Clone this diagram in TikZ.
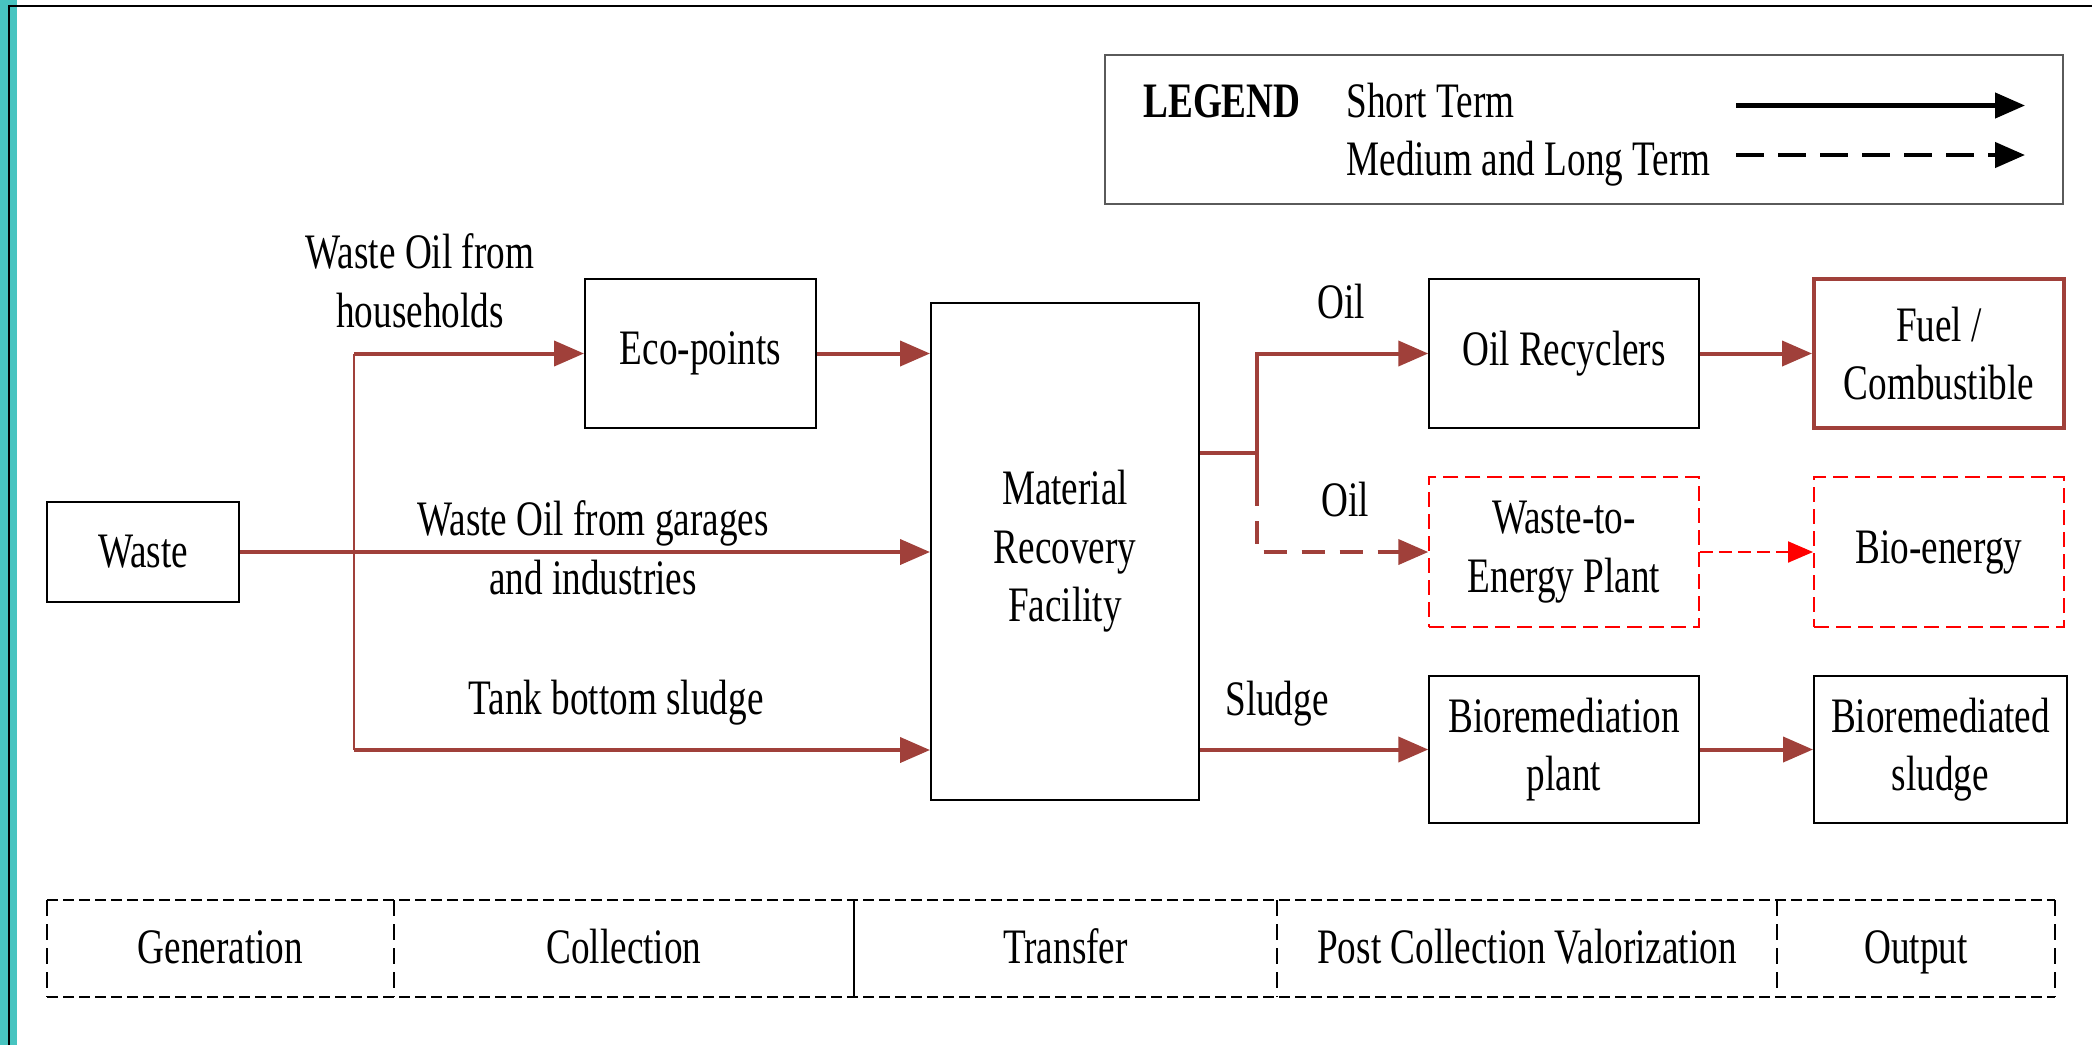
\documentclass[tikz,border=0pt]{standalone}
\usepackage{fontspec}
\setmainfont{Liberation Serif}[FakeStretch=0.75]
\usetikzlibrary{arrows.meta}
\definecolor{brn}{RGB}{160,64,58}
\definecolor{tealstrip}{RGB}{72,196,192}
\definecolor{legendgray}{RGB}{90,90,90}
\newcommand{\dgfont}{\fontsize{24.8pt}{29.3pt}\selectfont}
\begin{document}
\begin{tikzpicture}[x=0.5pt,y=-0.5pt, font=\dgfont,
  box/.style={draw=black, line width=1pt, align=center, inner sep=0pt},
  redbox/.style={draw=red, line width=1pt, dash pattern=on 7.5pt off 3.5pt, align=center, inner sep=0pt},
  lbl/.style={anchor=base, align=center, inner sep=0pt},
  flow/.style={draw=brn, line width=2pt, -{Triangle[length=15pt,width=12.5pt]}},
  brline/.style={draw=brn, line width=2pt},
  trunk/.style={draw=brn, line width=1pt},
  brdash/.style={dash pattern=on 11.5pt off 7.5pt},
  redflow/.style={draw=red, line width=1pt, dash pattern=on 6.5pt off 3pt, -{Triangle[length=12.5pt,width=10.5pt]}},
  legarrow/.style={draw=black, line width=2.2pt, -{Triangle[length=15pt,width=12.5pt]}},
  cell/.style={inner sep=0pt, outer sep=0pt, minimum height=48.5pt, text height=14.5pt, text depth=0pt},
  hdash/.style={draw=black, line width=1pt, dash pattern=on 5.5pt off 2.5pt},
  vdash/.style={draw=black, line width=0.7pt, dash pattern=on 8pt off 4pt}
]
\useasboundingbox (0,0) rectangle (2092,1045);
\fill[white] (0,0) rectangle (2092,1045);
\fill[tealstrip] (0,0) rectangle (17,1045);
\draw[line width=1.1pt] (9,1045) -- (9,6) -- (2092,6);

% Legend
\node[draw=legendgray, line width=0.6pt, minimum width=479pt, minimum height=74.5pt, inner sep=0pt] (legend) at (1584,129.5) {};
\node[anchor=base west, inner sep=0pt, font=\dgfont\bfseries] (lg) at (1143,117) {LEGEND};
\node[anchor=base west, inner sep=0pt] (st) at (1346,117) {Short Term};
\node[anchor=base west, inner sep=0pt] (ml) at (1346,175) {Medium and Long Term};
\coordinate (sa1) at (1736,105.5);
\coordinate (sa2) at (2025,105.5);
\coordinate (da1) at (1736,155);
\coordinate (da2) at (2025,155);
\draw[legarrow] (sa1) -- (sa2);
\draw[legarrow, dash pattern=on 14pt off 7pt] (da1) -- (da2);

% Boxes
\node[box, minimum width=96pt, minimum height=50pt] (waste) at (143,552) {Waste};
\node[box, minimum width=115.5pt, minimum height=74.5pt] (eco) at (700.5,353.5) {Eco-points};
\node[box, minimum width=134pt, minimum height=248.5pt] (mrf) at (1065,551.5) {Material\\Recovery\\Facility};
\node[box, minimum width=134.75pt, minimum height=74.5pt] (orec) at (1564,353.5) {Oil Recyclers};
\node[box, draw=brn, line width=2pt, minimum width=125pt, minimum height=74.5pt] (fuel) at (1939,353.5) {Fuel /\\Combustible};
\node[redbox, minimum width=134.75pt, minimum height=75pt] (wte) at (1564,552) {Waste-to-\\Energy Plant};
\node[redbox, minimum width=125pt, minimum height=75pt] (bio) at (1939,552) {Bio-energy};
\node[box, minimum width=134.75pt, minimum height=73.5pt] (bplant) at (1564,749.5) {Bioremediation\\plant};
\node[box, minimum width=126.5pt, minimum height=73.5pt] (bsludge) at (1940.5,749.5) {Bioremediated\\sludge};

% Labels (base = baseline of the last line)
\node[lbl] (l1) at (420,327) {Waste Oil from\\households};
\node[lbl] (l2) at (593,594) {Waste Oil from garages\\and industries};
\node[lbl] (l3) at (616,714) {Tank bottom sludge};
\node[lbl] (l4) at (1341,318) {Oil};
\node[lbl] (l5) at (1345,516) {Oil};
\node[lbl] (l6) at (1277,715) {Sludge};

% Connectors left
\coordinate (t1) at (354,353.5);
\coordinate (t2) at (354,750);
\draw[trunk] (t1) -- (t2);
\draw[flow] (t1) -- (eco.west);
\draw[flow] (waste.east) -- (waste.east -| mrf.west);
\draw[flow] (t2) -- (t2 -| mrf.west);
\draw[flow] (eco.east) -- (eco.east -| mrf.west);

% Connectors right
\coordinate (b0) at (1256.5,452.7);
\coordinate (bj) at (1256.5,483);
\draw[brline] (mrf.east |- b0) -- (b0);
\draw[flow] (bj) |- (orec.west);
\draw[flow, brdash] (bj) |- (wte.west);
\draw[flow] (orec.east) -- (fuel.west);
\draw[redflow] (wte.east) -- (bio.west);
\draw[flow] (mrf.east |- bplant.west) -- (bplant.west);
\draw[flow] (bplant.east) -- (bsludge.west);

% Stage bar
\node[cell, minimum width=173.5pt] (gen) at (220.5,948.5) {Generation};
\node[cell, minimum width=230pt] (col) at (624,948.5) {Collection};
\node[cell, minimum width=211.5pt] (tra) at (1065.5,948.5) {Transfer};
\node[cell, minimum width=250pt] (pcv) at (1527,948.5) {Post Collection Valorization};
\node[cell, minimum width=139pt] (out) at (1916,948.5) {Output};
\draw[hdash] (gen.north west) -- (out.north east);
\draw[hdash] (gen.south west) -- (out.south east);
\draw[vdash] (gen.north west) -- (gen.south west);
\draw[vdash] (col.north west) -- (col.south west);
\draw[draw=black, line width=0.7pt] (tra.north west) -- (tra.south west);
\draw[vdash] (pcv.north west) -- (pcv.south west);
\draw[vdash] (out.north west) -- (out.south west);
\draw[vdash] (out.north east) -- (out.south east);
\end{tikzpicture}
\end{document}
